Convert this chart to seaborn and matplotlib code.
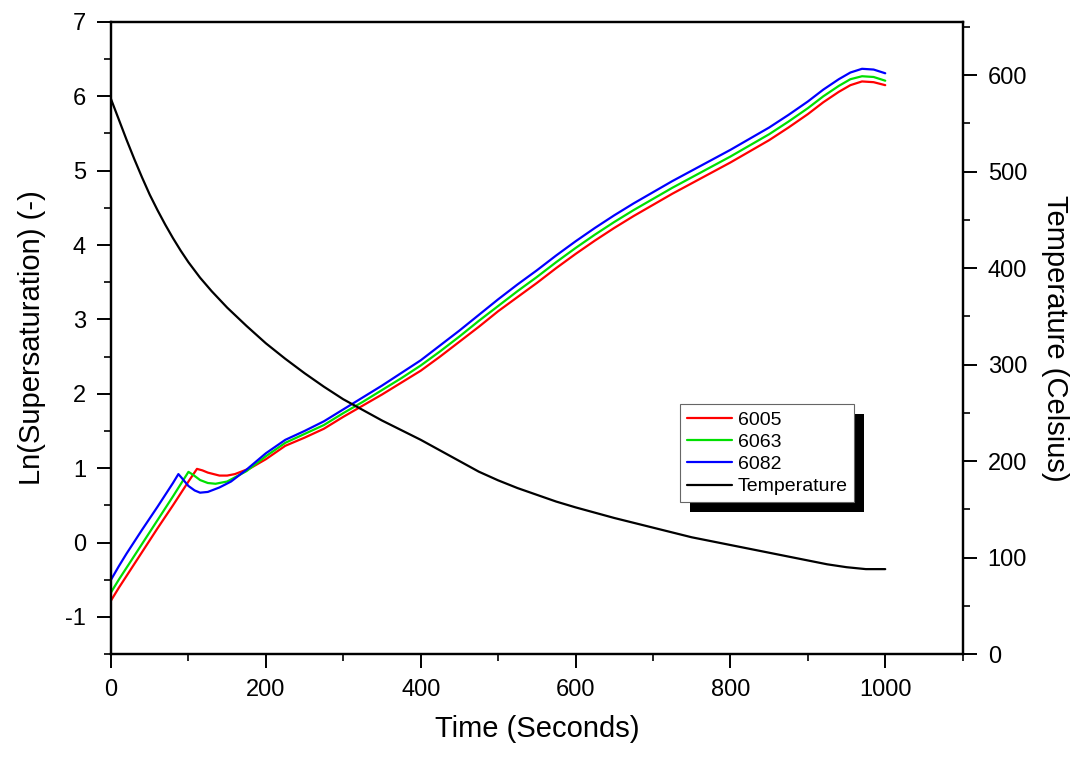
import matplotlib
matplotlib.use("Agg")
import matplotlib.pyplot as plt
from matplotlib.ticker import MultipleLocator
from matplotlib.patches import Rectangle
from matplotlib.lines import Line2D
import seaborn as sns

# ---------------- data ----------------
t_6005 = [0, 10, 20, 40, 60, 80, 100, 111, 118, 125, 140, 150, 160, 180, 200, 225, 250, 275, 300,
          325, 350, 375, 400, 425, 450, 475, 500, 525, 550, 575, 600, 625, 650, 675, 700,
          725, 750, 775, 800, 825, 850, 875, 900, 920, 940, 955, 970, 985, 1000]
v_6005 = [-0.78, -0.61, -0.45, -0.13, 0.19, 0.50, 0.82, 0.99, 0.97, 0.94, 0.90, 0.90, 0.92, 1.00, 1.12, 1.30, 1.41, 1.53, 1.69,
          1.84, 1.99, 2.15, 2.31, 2.50, 2.70, 2.90, 3.11, 3.30, 3.49, 3.69, 3.88, 4.06, 4.23, 4.39, 4.54,
          4.69, 4.83, 4.97, 5.11, 5.26, 5.41, 5.58, 5.76, 5.92, 6.06, 6.15, 6.20, 6.19, 6.15]

t_6063 = [0, 10, 20, 40, 60, 80, 100, 106, 115, 125, 135, 150, 175, 200, 225, 250, 275, 300,
          325, 350, 375, 400, 425, 450, 475, 500, 525, 550, 575, 600, 625, 650, 675, 700,
          725, 750, 775, 800, 825, 850, 875, 900, 920, 940, 955, 970, 985, 1000]
v_6063 = [-0.67, -0.50, -0.34, -0.02, 0.30, 0.62, 0.95, 0.91, 0.84, 0.80, 0.79, 0.82, 0.96, 1.16, 1.34, 1.46, 1.58, 1.74,
          1.89, 2.05, 2.21, 2.38, 2.57, 2.77, 2.98, 3.18, 3.38, 3.57, 3.77, 3.96, 4.14, 4.31, 4.47, 4.62,
          4.77, 4.91, 5.05, 5.19, 5.34, 5.49, 5.66, 5.84, 6.00, 6.14, 6.23, 6.27, 6.26, 6.21]

t_6082 = [0, 10, 20, 40, 60, 80, 87, 92, 100, 108, 115, 125, 140, 155, 175, 200, 225, 250, 275, 300,
          325, 350, 375, 400, 425, 450, 475, 500, 525, 550, 575, 600, 625, 650, 675, 700,
          725, 750, 775, 800, 825, 850, 875, 900, 920, 940, 955, 970, 985, 1000]
v_6082 = [-0.50, -0.32, -0.15, 0.17, 0.48, 0.80, 0.92, 0.86, 0.76, 0.70, 0.67, 0.68, 0.74, 0.82, 0.98, 1.20, 1.38, 1.50, 1.63, 1.79,
          1.95, 2.11, 2.28, 2.45, 2.65, 2.85, 3.06, 3.27, 3.47, 3.66, 3.86, 4.05, 4.23, 4.40, 4.56, 4.71,
          4.86, 5.00, 5.14, 5.28, 5.43, 5.58, 5.75, 5.93, 6.09, 6.23, 6.32, 6.37, 6.36, 6.31]

t_temp = [0, 10, 20, 30, 40, 50, 60, 70, 80, 90, 100, 115, 130, 150, 175, 200, 225, 250, 275, 300,
          325, 350, 375, 400, 425, 450, 475, 500, 525, 550, 575, 600, 650, 700, 750, 800, 850,
          900, 925, 950, 975, 1000]
v_temp = [575, 554, 533, 513, 494, 476, 460, 445, 431, 418, 406, 390, 376, 359, 340, 322, 306, 291, 277, 264,
          253, 242, 232, 222, 211, 200, 189, 180, 172, 165, 158, 152, 141, 131, 121, 113, 105,
          97, 93, 90, 88, 88]

series_labels = ["6005", "6063", "6082", "Temperature"]
series_colors = ["#ff0000", "#00e000", "#0000ff", "#000000"]

x_label = "Time (Seconds)"
y_left_label = "Ln(Supersaturation) (-)"
y_right_label = "Temperature (Celsius)"

# ---------------- style ----------------
sns.set_style("ticks")
plt.rcParams["font.family"] = ["Liberation Sans", "DejaVu Sans"]
plt.rcParams["axes.unicode_minus"] = False
plt.rcParams["text.color"] = "black"
plt.rcParams["axes.labelcolor"] = "black"

fig = plt.figure(figsize=(10.78, 7.57), dpi=100)
ax = fig.add_axes([0.103, 0.136, 0.790, 0.835])
ax2 = ax.twinx()

lw = 1.6
sns.lineplot(x=t_6005, y=v_6005, ax=ax, color=series_colors[0], lw=lw, sort=False)
sns.lineplot(x=t_6063, y=v_6063, ax=ax, color=series_colors[1], lw=lw, sort=False)
sns.lineplot(x=t_6082, y=v_6082, ax=ax, color=series_colors[2], lw=lw, sort=False)
sns.lineplot(x=t_temp, y=v_temp, ax=ax2, color=series_colors[3], lw=lw, sort=False)

ax.set_xlim(0, 1100)
ax.set_ylim(-1.5, 7)
ax2.set_ylim(0, 655)

ax.xaxis.set_major_locator(MultipleLocator(200))
ax.xaxis.set_minor_locator(MultipleLocator(100))
ax.yaxis.set_major_locator(MultipleLocator(1))
ax.yaxis.set_minor_locator(MultipleLocator(0.5))
ax2.yaxis.set_major_locator(MultipleLocator(100))
ax2.yaxis.set_minor_locator(MultipleLocator(50))

tick_fs = 17
for a in (ax, ax2):
    a.tick_params(which="major", direction="out", length=10, width=1.4,
                  labelsize=tick_fs, color="black", labelcolor="black")
    a.tick_params(which="minor", direction="out", length=5, width=1.2, color="black")
    for s in a.spines.values():
        s.set_linewidth(1.6)
        s.set_color("black")
ax.tick_params(axis="x", which="both", top=False, pad=8)
ax.tick_params(axis="y", which="both", right=False, pad=8)
ax2.tick_params(axis="y", which="both", left=False, pad=8)
for s in ("top", "right"):
    ax.spines[s].set_visible(True)
ax2.spines["top"].set_visible(True)
ax2.spines["right"].set_visible(True)

lab_fs = 21
ax.set_xlabel(x_label, fontsize=lab_fs, labelpad=10, color="black")
ax.set_ylabel(y_left_label, fontsize=lab_fs, labelpad=14, color="black")
ax2.set_ylabel(y_right_label, fontsize=lab_fs, rotation=270, labelpad=30, color="black")

# ---------------- legend with hard black shadow ----------------
handles = [Line2D([], [], color=c, lw=lw) for c in series_colors]
leg = fig.legend(handles, series_labels, loc="upper left",
                 bbox_to_anchor=(0.631, 0.466), bbox_transform=fig.transFigure,
                 fontsize=14, frameon=True, fancybox=False, shadow=False,
                 handlelength=2.3, handletextpad=0.3, labelspacing=0.24,
                 borderpad=0.35, borderaxespad=0.0)
for txt in leg.get_texts():
    txt.set_color("black")
leg.get_frame().set_edgecolor("#666666")
leg.get_frame().set_linewidth(0.8)
leg.get_frame().set_facecolor("white")
leg.get_frame().set_alpha(1)
leg.set_zorder(10)

fig.canvas.draw()
bb = leg.get_window_extent(fig.canvas.get_renderer())
bbf = bb.transformed(fig.transFigure.inverted())
dx = 10 / fig.bbox.width
dy = 10 / fig.bbox.height
shadow = Rectangle((bbf.x0 + dx, bbf.y0 - dy), bbf.width, bbf.height,
                   transform=fig.transFigure, facecolor="black", edgecolor="none", zorder=9)
fig.add_artist(shadow)

fig.savefig("out.png", dpi=100, facecolor="white")
